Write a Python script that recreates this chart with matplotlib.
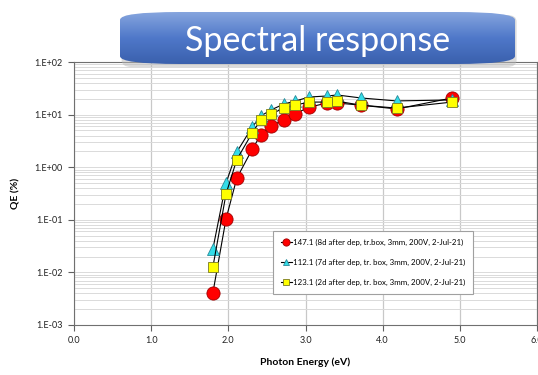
import numpy as np
import matplotlib
matplotlib.use("Agg")
import matplotlib.pyplot as plt
from matplotlib.patches import FancyBboxPatch
from matplotlib.colors import LinearSegmentedColormap
from matplotlib.ticker import FixedLocator, LogLocator, NullFormatter

plt.rcParams['font.family'] = ['Lato', 'DejaVu Sans']

# Photon energies (eV) of the illumination points
energy = [1.80, 1.97, 2.11, 2.31, 2.42, 2.55, 2.72, 2.86, 3.05, 3.28, 3.41, 3.72, 4.18, 4.90]

# Quantum efficiency (%) per cathode
qe_147 = [0.0041, 0.104, 0.62, 2.2, 4.1, 6.1, 7.9, 10.3, 13.9, 16.6, 16.6, 15.1, 12.8, 20.7]
qe_112 = [0.028, 0.50, 1.95, 5.8, 9.4, 12.2, 15.9, 18.0, 21.6, 22.6, 23.6, 20.7, 18.2, 19.0]
qe_123 = [0.0127, 0.31, 1.40, 4.5, 7.9, 10.2, 13.3, 15.1, 17.3, 17.3, 18.0, 15.1, 13.3, 17.3]

labels = [
    "147.1 (8d after dep, tr.box, 3mm, 200V, 2-Jul-21)",
    "112.1 (7d after dep, tr. box, 3mm, 200V, 2-Jul-21)",
    "123.1 (2d after dep, tr. box, 3mm, 200V, 2-Jul-21)",
]

x_ticks = [0.0, 1.0, 2.0, 3.0, 4.0, 5.0, 6.0]
x_tick_labels = ["0.0", "1.0", "2.0", "3.0", "4.0", "5.0", "6.0"]
y_ticks = [1e-3, 1e-2, 1e-1, 1e0, 1e1, 1e2]
y_tick_labels = ["1.E-03", "1.E-02", "1.E-01", "1.E+00", "1.E+01", "1.E+02"]

W, H = 538, 375
fig = plt.figure(figsize=(W / 100, H / 100), dpi=100)
fig.patch.set_facecolor("white")

ax = fig.add_axes([74 / W, 1 - 325 / H, (537 - 74) / W, (325 - 62) / H])
ax.set_xlim(0, 6)
ax.set_yscale("log")
ax.set_ylim(1e-3, 1e2)

# grid: vertical majors, horizontal at every minor decade step
ax.xaxis.set_major_locator(FixedLocator(x_ticks))
ax.set_xticklabels(x_tick_labels)
ax.yaxis.set_major_locator(FixedLocator(y_ticks))
ax.set_yticklabels(y_tick_labels)
ax.yaxis.set_minor_locator(LogLocator(base=10, subs=np.arange(2, 10)))
ax.yaxis.set_minor_formatter(NullFormatter())
ax.grid(axis="x", which="major", color="#c8c8c8", lw=0.9)
ax.grid(axis="y", which="both", color="#dadada", lw=0.7)
ax.set_axisbelow(True)
ax.tick_params(axis="both", which="major", direction="out", length=4,
               width=0.8, color="#606060", labelsize=6.5, labelcolor="#222222", pad=4)
ax.tick_params(axis="y", which="minor", length=0)
for s in ax.spines.values():
    s.set_color("#707070")
    s.set_linewidth(0.8)

ax.plot(energy, qe_147, color="black", lw=0.8, marker="o", ms=9.5,
        mfc="#ff0000", mec="#a00000", mew=0.6, label=labels[0], zorder=3)
ax.plot(energy, qe_112, color="black", lw=0.8, marker="^", ms=9,
        mfc="#33dde8", mec="#2a8a99", mew=0.6, label=labels[1], zorder=4)
ax.plot(energy, qe_123, color="black", lw=0.8, marker="s", ms=7.5,
        mfc="#ffff00", mec="#7a7a20", mew=0.6, label=labels[2], zorder=5)

ax.set_xlabel("Photon Energy (eV)", fontsize=7.5, fontweight="bold", labelpad=9)
ax.set_ylabel("QE (%)", fontsize=7.5, fontweight="bold", labelpad=10)

leg = ax.legend(loc="upper left", bbox_to_anchor=(0.422, 0.372), fontsize=5.7,
                markerscale=0.55, handlelength=1.3, handletextpad=0.2,
                labelspacing=1.6, borderpad=1.0, fancybox=False,
                edgecolor="#a0a0a0", framealpha=1)
leg.get_frame().set_linewidth(0.8)

# Title banner with rounded corners and a vertical blue gradient
bx0, bx1, by0, by1 = 120, 515, 12, 64
shadow = FancyBboxPatch((bx0 / W + 0.003, 1 - by1 / H - 0.008),
                        (bx1 - bx0) / W, (by1 - by0) / H,
                        boxstyle="round,pad=0,rounding_size=0.018",
                        transform=fig.transFigure, facecolor="#b8b8b8",
                        edgecolor="none", alpha=0.5, zorder=5)
fig.patches.append(shadow)
tax = fig.add_axes([bx0 / W, 1 - by1 / H, (bx1 - bx0) / W, (by1 - by0) / H])
tax.set_axis_off()
tax.set_zorder(10)
grad = np.linspace(0, 1, 256).reshape(-1, 1)
cmap = LinearSegmentedColormap.from_list("banner", ["#86a5de", "#4f78c9", "#3a60ad"])
im = tax.imshow(grad, aspect="auto", cmap=cmap, extent=[0, 1, 0, 1], origin="upper")
tax.set_xlim(0, 1)
tax.set_ylim(0, 1)
clip = FancyBboxPatch((0, 0), 1, 1, boxstyle="round,pad=0,rounding_size=0.15",
                      transform=tax.transAxes, facecolor="none", edgecolor="none")
tax.add_patch(clip)
im.set_clip_path(clip)
tax.text(0.5, 0.45, "Spectral response", transform=tax.transAxes, ha="center",
         va="center", color="white", fontsize=24.5)

fig.savefig("out.png", dpi=100)
